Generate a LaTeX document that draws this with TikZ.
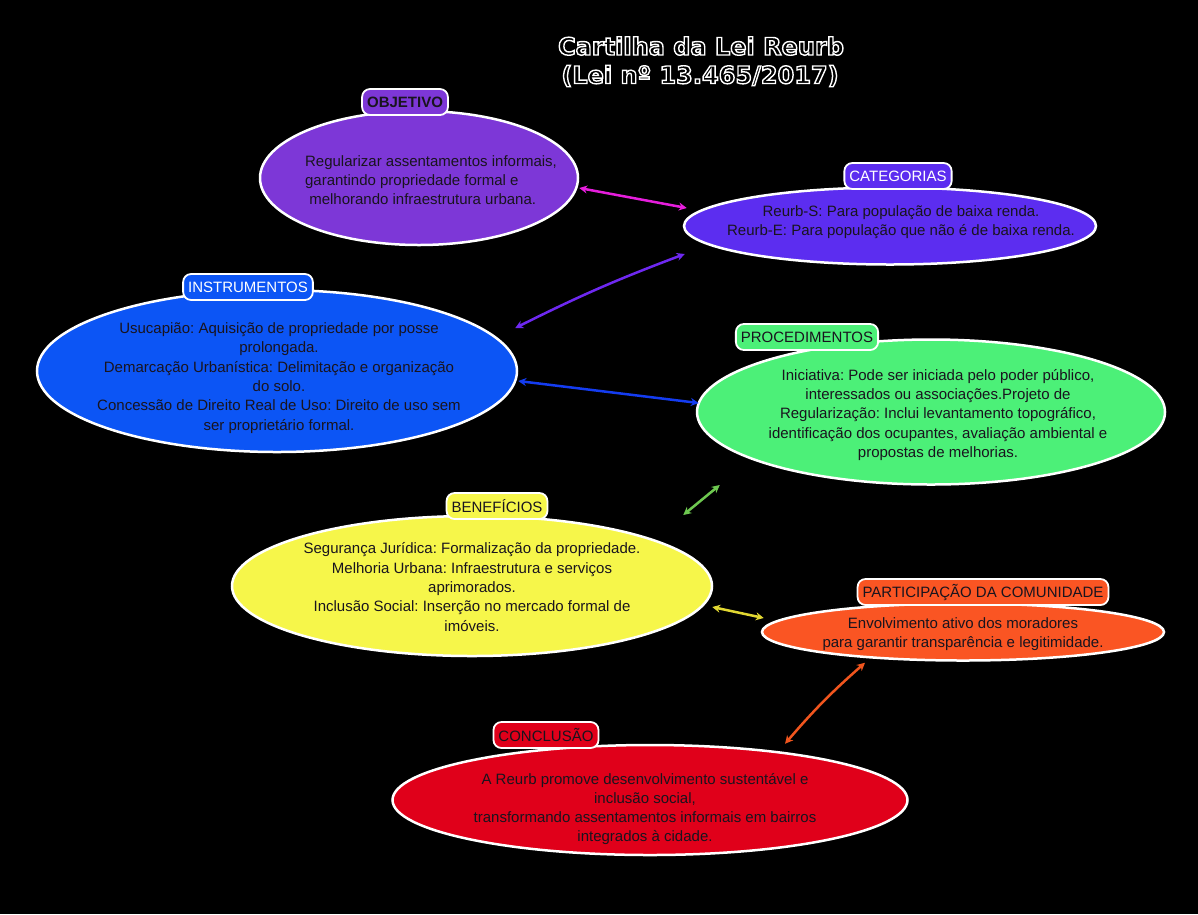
\documentclass[tikz,border=0pt]{standalone}
\usepackage{fontspec}
\setmainfont{Liberation Sans}
\newfontfamily\titlefont{DejaVu Sans}
\usetikzlibrary{shapes.geometric,arrows.meta}
\frenchspacing

\definecolor{objcol}{RGB}{125,55,215}
\definecolor{catcol}{RGB}{92,45,240}
\definecolor{instcol}{RGB}{12,85,245}
\definecolor{proccol}{RGB}{76,240,120}
\definecolor{bencol}{RGB}{246,246,74}
\definecolor{partcol}{RGB}{250,85,35}
\definecolor{conccol}{RGB}{224,0,26}
\definecolor{txtcol}{RGB}{25,20,30}
\definecolor{lnkmag}{RGB}{230,30,220}
\definecolor{lnkvio}{RGB}{110,40,240}
\definecolor{lnkblue}{RGB}{20,60,240}
\definecolor{lnkgreen}{RGB}{110,200,80}
\definecolor{lnkyel}{RGB}{225,215,50}
\definecolor{lnkor}{RGB}{240,85,30}

\newcommand{\outlined}[1]{\special{pdf:literal direct 1 Tr 1.4 w}#1\special{pdf:literal direct 0 Tr}}

\begin{document}
\begin{tikzpicture}[x=1pt,y=-1pt,
  bubble/.style={ellipse, draw=white, line width=2.5pt, inner sep=0pt},
  tab/.style={draw=white, line width=1.8pt, rounded corners=8pt, minimum height=26pt,
    inner xsep=5pt, inner ysep=0pt, text=txtcol, font=\fontsize{15}{18}\selectfont},
  txt/.style={align=center, text=txtcol, font=\fontsize{15}{19.3}\selectfont},
  title/.style={text=white, font=\titlefont\bfseries\fontsize{24}{28}\selectfont},
  link/.style={{Stealth[length=8pt,width=8pt]}-{Stealth[length=8pt,width=8pt]}, line width=2.5pt}]
  \fill[black] (0,0) rectangle (1198,914);

  \node[title] (t1) at (701,46) {\outlined{Cartilha da Lei Reurb}};
  \node[title] (t2) at (700,76) {\outlined{(Lei nº 13.465/2017)}};

  \node[bubble, fill=objcol, minimum width=318pt, minimum height=134pt] (obj) at (419,178) {};
  \node[txt, align=left] (objtxt) at (431,180) {Regularizar assentamentos informais,\\garantindo propriedade formal e\\\ melhorando infraestrutura urbana.};
  \node[tab, fill=objcol, font=\fontsize{15}{18}\selectfont\bfseries] (objtab) at (405,102) {OBJETIVO};

  \node[bubble, fill=catcol, minimum width=412pt, minimum height=77pt] (cat) at (890,226) {};
  \node[txt] (cattxt) at (901,222) {Reurb-S: Para população de baixa renda.\\Reurb-E: Para população que não é de baixa renda.};
  \node[tab, fill=catcol, text=white] (cattab) at (898,176) {CATEGORIAS};

  \node[bubble, fill=instcol, minimum width=480pt, minimum height=162pt] (inst) at (277,371) {};
  \node[txt] (insttxt) at (279,378) {Usucapião: Aquisição de propriedade por posse\\prolongada.\\Demarcação Urbanística: Delimitação e organização\\do solo.\\Concessão de Direito Real de Uso: Direito de uso sem\\ser proprietário formal.};
  \node[tab, fill=instcol, text=white] (insttab) at (248,287) {INSTRUMENTOS};

  \node[bubble, fill=proccol, minimum width=468pt, minimum height=145pt] (proc) at (931,412) {};
  \node[txt] (proctxt) at (938,415) {Iniciativa: Pode ser iniciada pelo poder público,\\interessados ou associações.Projeto de\\Regularização: Inclui levantamento topográfico,\\identificação dos ocupantes, avaliação ambiental e\\propostas de melhorias.};
  \node[tab, fill=proccol] (proctab) at (807,337) {PROCEDIMENTOS};

  \node[bubble, fill=bencol, minimum width=480pt, minimum height=140pt] (ben) at (472,586) {};
  \node[txt] (bentxt) at (472,587) {Segurança Jurídica: Formalização da propriedade.\\Melhoria Urbana: Infraestrutura e serviços\\aprimorados.\\Inclusão Social: Inserção no mercado formal de\\imóveis.};
  \node[tab, fill=bencol] (bentab) at (497,506) {BENEFÍCIOS};

  \node[bubble, fill=partcol, minimum width=402pt, minimum height=57pt] (part) at (963,632) {};
  \node[txt] (parttxt) at (963,634) {Envolvimento ativo dos moradores\\para garantir transparência e legitimidade.};
  \node[tab, fill=partcol] (parttab) at (983,592) {PARTICIPAÇÃO DA COMUNIDADE};

  \node[bubble, fill=conccol, minimum width=515pt, minimum height=110pt] (conc) at (650,800) {};
  \node[txt] (conctxt) at (645,809) {A Reurb promove desenvolvimento sustentável e\\inclusão social,\\transformando assentamentos informais em bairros\\integrados à cidade.};
  \node[tab, fill=conccol] (conctab) at (546,735) {CONCLUSÃO};

  \draw[link, lnkmag] ([shift={(0,10)}]obj.east) -- ([shift={(4,-18)}]cat.west);
  \draw[link, lnkvio] ([shift={(-3,-43)}]inst.east) to[bend left=3] ([shift={(2,28)}]cat.west);
  \draw[link, lnkblue] ([shift={(0,10)}]inst.east) -- ([shift={(3,-9)}]proc.west);
  \draw[link, lnkgreen] ([shift={(-30,-71)}]ben.east) -- ([shift={(24,73)}]proc.west);
  \draw[link, lnkyel] ([shift={(-1,21)}]ben.east) -- ([shift={(3,-14)}]part.west);
  \draw[link, lnkor] ([shift={(135,0)}]conc.north) to[bend left=4] ([shift={(-98,1)}]part.south);
\end{tikzpicture}
\end{document}
